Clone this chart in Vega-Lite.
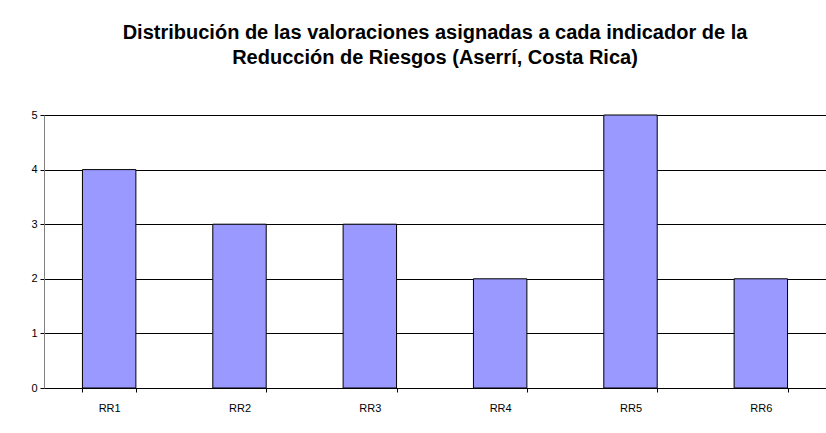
{
  "$schema": "https://vega.github.io/schema/vega-lite/v6.json",
  "width": 782,
  "height": 273,
  "autosize": {"type": "none"},
  "padding": {"left": 44, "top": 115, "right": 0, "bottom": 45},
  "background": "white",
  "title": {
    "text": ["Distribución de las valoraciones asignadas a cada indicador de la", "Reducción de Riesgos (Aserrí, Costa Rica)"],
    "font": "Liberation Sans",
    "fontSize": 20,
    "fontWeight": "bold",
    "color": "black",
    "anchor": "middle",
    "baseline": "bottom",
    "lineHeight": 25,
    "offset": 21
  },
  "data": {
    "values": [
      {"indicador": "RR1", "valor": 4},
      {"indicador": "RR2", "valor": 3},
      {"indicador": "RR3", "valor": 3},
      {"indicador": "RR4", "valor": 2},
      {"indicador": "RR5", "valor": 5},
      {"indicador": "RR6", "valor": 2}
    ]
  },
  "mark": {"type": "bar", "fill": "#9999FF", "stroke": "black", "strokeWidth": 1},
  "encoding": {
    "x": {
      "field": "indicador",
      "type": "nominal",
      "sort": null,
      "scale": {"paddingInner": 0.59, "paddingOuter": 0.295},
      "axis": {
        "title": null,
        "labelAngle": 0,
        "labelFont": "Liberation Sans",
        "labelFontSize": 11,
        "labelColor": "black",
        "labelPadding": 10,
        "tickBand": "extent",
        "tickColor": "black",
        "tickSize": 4,
        "domainColor": "black",
        "grid": false
      }
    },
    "y": {
      "field": "valor",
      "type": "quantitative",
      "scale": {"domain": [0, 5], "nice": false},
      "axis": {
        "title": null,
        "values": [0, 1, 2, 3, 4, 5],
        "labelOverlap": false,
        "labelFont": "Liberation Sans",
        "labelFontSize": 11,
        "labelColor": "black",
        "labelPadding": 3,
        "tickColor": "black",
        "tickSize": 4,
        "domainColor": "#808080",
        "grid": true,
        "gridColor": "black",
        "gridOpacity": 1,
        "gridWidth": 1
      }
    }
  },
  "config": {
    "view": {"stroke": "#808080", "strokeWidth": 1},
    "axis": {"domainWidth": 1}
  }
}
